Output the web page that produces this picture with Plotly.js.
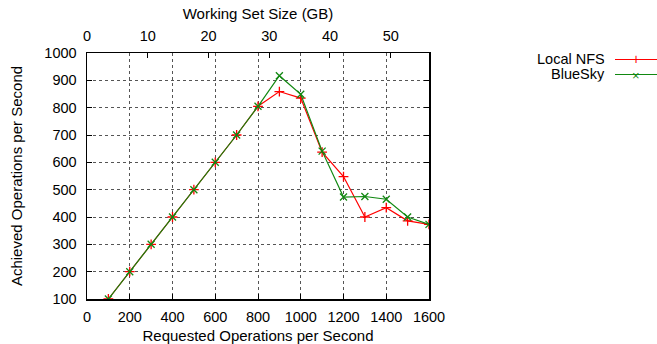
<!DOCTYPE html>
<html><head><meta charset="utf-8">
<script src="https://cdn.plot.ly/plotly-3.0.1.min.js"></script>
<style>html,body{margin:0;padding:0;background:#fff}</style>
</head><body>
<div id="chart" style="width:657px;height:344px"></div>
<script>
const requested = [100,200,300,400,500,600,700,800,900,1000,1100,1200,1300,1400,1500,1600];
const localNFS  = [100,200,300,400,500,600,700,805,859,835,637,548,400,434,386,373];
const blueSky   = [100,200,300,400,500,600,700,805,917,849,641,473,475,465,400,373];
const seriesNames = ['Local NFS','BlueSky'];
const xTicks = [0,200,400,600,800,1000,1200,1400,1600];
const yTicks = [100,200,300,400,500,600,700,800,900,1000];
const x2Ticks = [0,10,20,30,40,50];

const RED = '#ff0000', GREEN = '#118811';
const FONT = 'Liberation Sans, Arial, sans-serif';
const TICK = 14.5, TITLE = 15;

const traces = [
  {x: requested, y: localNFS, name: seriesNames[0], type:'scatter', mode:'lines+markers',
   line:{color:RED, width:1.2}, marker:{symbol:'cross-thin-open', size:7, color:RED, line:{color:RED, width:1.3}}},
  {x: requested, y: blueSky, name: seriesNames[1], type:'scatter', mode:'lines+markers',
   line:{color:GREEN, width:1.2}, marker:{symbol:'x-thin-open', size:7, color:GREEN, line:{color:GREEN, width:1.3}}},
  {x:[0], y:[0], xaxis:'x2', yaxis:'y', mode:'markers', marker:{opacity:0}, hoverinfo:'skip', showlegend:false}
];

const legendY = [59.5, 74.5];
const shapes = [];
const annotations = [];
[RED, GREEN].forEach((c,i)=>{
  const yy = (344 - legendY[i] - 45)/246;
  shapes.push({type:'line', xref:'paper', yref:'paper', x0:(615-87)/342, x1:(657-87)/342, y0:yy, y1:yy, line:{color:c, width:1.2}});
  annotations.push({xref:'paper', yref:'paper', x:(606-87)/342, y:yy, xanchor:'right', yanchor:'middle', showarrow:false,
    height:14.5, borderpad:0, text:seriesNames[i], font:{family:FONT, size:14.5, color:'#000'}});
  annotations.push({xref:'paper', yref:'paper', x:(635.5-87)/342, y:yy, xanchor:'center', yanchor:'middle', showarrow:false,
    height:10, borderpad:0, text:i===0?'+':'×', font:{family:FONT, size:i===0?14:13, color:c}});
});

const layout = {
  width:657, height:344,
  margin:{l:87, r:228, t:53, b:45},
  paper_bgcolor:'#fff', plot_bgcolor:'#fff',
  showlegend:false,
  font:{family:FONT, size:TICK, color:'#000'},
  xaxis:{range:[0,1600], tickvals:xTicks, ticktext:xTicks.map(String),
    ticks:'inside', ticklen:5, tickcolor:'#000', showline:true, linecolor:'#000', linewidth:1.5, mirror:false,
    showgrid:true, gridcolor:'#555', griddash:'dot', gridwidth:1, zeroline:false, ticklabelstandoff:4,
    title:{text:'Requested Operations per Second', font:{family:FONT, size:TITLE}, standoff:7},
    tickfont:{family:FONT, size:TICK}},
  xaxis2:{range:[0,56.3], overlaying:'x', side:'top', tickvals:x2Ticks, ticktext:x2Ticks.map(String),
    ticks:'inside', ticklen:5, tickcolor:'#000', showline:true, linecolor:'#000', linewidth:1.5,
    showgrid:false, zeroline:false, ticklabelstandoff:5,
    title:{text:'Working Set Size (GB)', font:{family:FONT, size:TITLE}, standoff:4},
    tickfont:{family:FONT, size:TICK}},
  yaxis:{range:[100,1000], tickvals:yTicks, ticktext:yTicks.map(String),
    ticks:'inside', ticklen:5, tickcolor:'#000', showline:true, linecolor:'#000', linewidth:1.5, mirror:'ticks',
    showgrid:true, gridcolor:'#555', griddash:'dot', gridwidth:1, zeroline:false, ticklabelstandoff:6,
    title:{text:'Achieved Operations per Second', font:{family:FONT, size:TITLE}, standoff:18},
    tickfont:{family:FONT, size:TICK}},
  shapes: shapes,
  annotations: annotations
};

Plotly.newPlot('chart', traces, layout, {displayModeBar:false, staticPlot:true});
</script>
</body></html>
